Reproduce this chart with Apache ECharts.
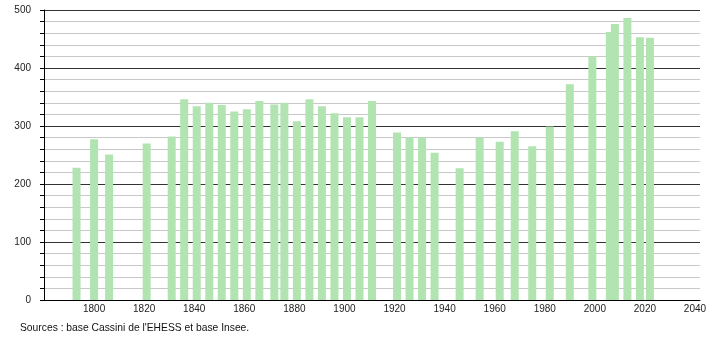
<!DOCTYPE html>
<html>
<head>
<meta charset="utf-8">
<script src="https://cdn.jsdelivr.net/npm/echarts@6/dist/echarts.min.js"></script>
<style>html,body{margin:0;padding:0;background:#fff;}#c{width:710px;height:340px;}</style>
</head>
<body>
<div id="c"></div>
<script>
const years = [1793,1800,1806,1821,1831,1836,1841,1846,1851,1856,1861,1866,1872,1876,1881,1886,1891,1896,1901,1906,1911,1921,1926,1931,1936,1946,1954,1962,1968,1975,1982,1990,1999,2006,2008,2013,2018,2022];
const population = [228,277,251,270,282,346,334,340,336,325,329,343,337,340,308,346,334,322,315,315,343,289,280,280,254,227,280,273,291,265,299,372,420,462,476,486,453,452];
const xTickLabels = [1800,1820,1840,1860,1880,1900,1920,1940,1960,1980,2000,2020,2040];
const yTickLabels = [0,100,200,300,400,500];
const sourceText = "Sources : base Cassini de l'EHESS et base Insee.";

const chart = echarts.init(document.getElementById('c'), null, {renderer: 'canvas'});
const font = 'Liberation Sans, Arial, sans-serif';
chart.setOption({
  animation: false,
  backgroundColor: '#ffffff',
  grid: {left: 44, right: 10, top: 10, bottom: 40, containLabel: false},
  xAxis: {
    type: 'value', min: 1780, max: 2042, interval: 20,
    axisLine: {show: true, lineStyle: {color: '#000', width: 1}},
    axisTick: {show: false},
    splitLine: {show: false},
    axisLabel: {
      color: '#222', fontSize: 10, fontFamily: font, margin: 4,
      formatter: function (v) { return xTickLabels.indexOf(v) >= 0 ? String(v) : ''; }
    }
  },
  yAxis: {
    type: 'value', min: 0, max: 500, interval: 100,
    axisLine: {show: true, lineStyle: {color: '#000', width: 1}},
    axisTick: {show: true, inside: false, length: 4, lineStyle: {color: '#000'}},
    minorTick: {show: true, splitNumber: 5, length: 4, lineStyle: {color: '#000'}},
    splitLine: {show: true, lineStyle: {color: '#333', width: 1}},
    minorSplitLine: {show: true, lineStyle: {color: '#c8c8c8', width: 1}},
    axisLabel: {
      color: '#222', fontSize: 10, fontFamily: font, margin: 13,
      formatter: function (v) { return yTickLabels.indexOf(v) >= 0 ? String(v) : ''; }
    }
  },
  series: [{
    type: 'bar',
    barWidth: 8,
    itemStyle: {color: '#b1e4b1'},
    data: years.map((y, i) => [y, population[i]])
  }],
  graphic: [{
    type: 'text', left: 20, top: 323,
    style: {text: sourceText, fontSize: 10.3, fontFamily: font, fill: '#111'}
  }]
});
</script>
</body>
</html>
